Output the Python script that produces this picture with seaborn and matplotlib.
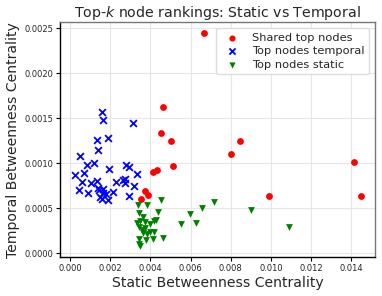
import matplotlib
matplotlib.use("Agg")
import matplotlib.pyplot as plt
import seaborn as sns
import pandas as pd

shared_x = [0.00668, 0.00463, 0.00453, 0.00501, 0.00514, 0.00415, 0.00431, 0.00375, 0.00388, 0.00353,
            0.00847, 0.00801, 0.01414, 0.00990, 0.01448]
shared_y = [0.002447, 0.001622, 0.001340, 0.001250, 0.000971, 0.000908, 0.000926, 0.000696, 0.000644, 0.000599,
            0.001253, 0.001108, 0.001012, 0.000640, 0.000640]

temporal_x = [0.00158, 0.00163, 0.00312, 0.00136, 0.00187, 0.00141, 0.00050, 0.00023, 0.00071, 0.00086,
              0.00119, 0.00192, 0.00058, 0.00106, 0.00133, 0.00043, 0.00090, 0.00139, 0.00146, 0.00166,
              0.00163, 0.00177, 0.00149, 0.00159, 0.00191, 0.00212, 0.00229, 0.00265, 0.00275, 0.00272,
              0.00279, 0.00295, 0.00332, 0.00318, 0.00295]
temporal_y = [0.001574, 0.001484, 0.001447, 0.001260, 0.001283, 0.001150, 0.001080, 0.000870, 0.000890, 0.000980,
              0.001004, 0.000934, 0.000796, 0.000785, 0.000807, 0.000703, 0.000673, 0.000729, 0.000703, 0.000710,
              0.000673, 0.000655, 0.000621, 0.000606, 0.000590, 0.000684, 0.000789, 0.000815, 0.000785, 0.000826,
              0.000980, 0.000963, 0.000878, 0.000748, 0.000636]

static_x = [0.00599, 0.00627, 0.00658, 0.00715, 0.00899, 0.01091, 0.00451, 0.00340, 0.00381, 0.00345,
            0.00438, 0.00362, 0.00551, 0.00335, 0.00348, 0.00375, 0.00398, 0.00418, 0.00428, 0.00342,
            0.00357, 0.00373, 0.00365, 0.00385, 0.00398, 0.00418, 0.00345, 0.00378, 0.00414, 0.00461,
            0.00348, 0.00345]
static_y = [0.000435, 0.000342, 0.000506, 0.000573, 0.000480, 0.000294, 0.000590, 0.000536, 0.000536, 0.000450,
            0.000461, 0.000398, 0.000324, 0.000338, 0.000360, 0.000350, 0.000330, 0.000357, 0.000368, 0.000287,
            0.000264, 0.000276, 0.000220, 0.000212, 0.000238, 0.000238, 0.000164, 0.000145, 0.000164, 0.000171,
            0.000078, 0.000100]

labels = ["Shared top nodes", "Top nodes temporal", "Top nodes static"]

df = pd.DataFrame({
    "x": shared_x + temporal_x + static_x,
    "y": shared_y + temporal_y + static_y,
    "group": [labels[0]] * len(shared_x) + [labels[1]] * len(temporal_x) + [labels[2]] * len(static_x),
})

sns.set_style("whitegrid", {"axes.edgecolor": "black", "grid.color": "#e6e6e6",
                            "xtick.bottom": True, "ytick.left": True})
plt.rcParams["font.family"] = ["DejaVu Sans"]

fig = plt.figure(figsize=(3.82, 2.96), dpi=100)
ax = fig.add_axes([0.158, 0.132, 0.824, 0.792])

palette = {labels[0]: "red", labels[1]: "blue", labels[2]: "green"}

for lab, m in zip(labels, ["o", "x", "v"]):
    sub = df[df["group"] == lab]
    sns.scatterplot(data=sub, x="x", y="y", ax=ax, color=palette[lab], marker=m,
                    s=24, linewidth=1.3 if m == "x" else 0, label=lab)

for side in ["top", "right"]:
    ax.spines[side].set_color("#777777")
for side in ["left", "bottom"]:
    ax.spines[side].set_color("black")
for s in ax.spines.values():
    s.set_linewidth(1.0)

ax.tick_params(axis="both", labelsize=6, length=3, width=0.8, pad=2, color="black")
ax.set_xticks([0.000, 0.002, 0.004, 0.006, 0.008, 0.010, 0.012, 0.014])
ax.set_yticks([0.0000, 0.0005, 0.0010, 0.0015, 0.0020, 0.0025])
ax.xaxis.set_major_formatter(matplotlib.ticker.FormatStrFormatter("%.3f"))
ax.yaxis.set_major_formatter(matplotlib.ticker.FormatStrFormatter("%.4f"))

ax.set_title("Top-$k$ node rankings: Static vs Temporal", fontsize=10.2, pad=4)
ax.set_xlabel("Static Betweenness Centrality", fontsize=10.1, labelpad=2)
ax.set_ylabel("Temporal Betweenness Centrality", fontsize=10.1, labelpad=3)

leg = ax.legend(loc="upper right", fontsize=8.2, frameon=True, framealpha=1,
                edgecolor="#dddddd", handletextpad=0.8, borderpad=0.4, labelspacing=0.3,
                markerscale=0.9)

fig.savefig("out.png", dpi=100)
